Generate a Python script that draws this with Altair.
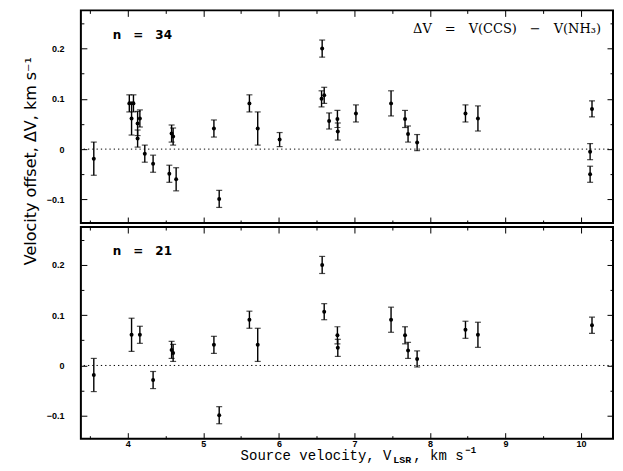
import altair as alt
import pandas as pd

# ---------------- data ----------------
# upper panel, n = 34
vel_top = [3.55, 4.02, 4.075, 4.05, 4.13, 4.13, 4.16, 4.225, 4.335, 4.55, 4.58, 4.60, 4.64,
           5.14, 5.21, 5.61, 5.72, 6.01,
           6.573, 6.565, 6.60, 6.665, 6.775, 6.78, 7.02, 7.485, 7.67, 7.71,
           7.83, 8.47, 8.635,
           10.145, 10.12, 10.12]
dv_top = [-0.019, 0.091, 0.091, 0.061, 0.051, 0.021, 0.061, -0.009, -0.029, -0.049, 0.031, 0.025, -0.060,
          0.041, -0.099, 0.091, 0.041, 0.019,
          0.200, 0.100, 0.107, 0.056, 0.060, 0.035, 0.071, 0.091, 0.060, 0.030,
          0.013, 0.071, 0.061,
          0.080, -0.005, -0.050]
err_top = [0.033, 0.017, 0.017, 0.033, 0.024, 0.017, 0.017, 0.017, 0.017, 0.017, 0.017, 0.017, 0.023,
           0.017, 0.017, 0.017, 0.033, 0.014,
           0.017, 0.016, 0.016, 0.016, 0.017, 0.017, 0.017, 0.025, 0.017, 0.016,
           0.016, 0.017, 0.025,
           0.016, 0.016, 0.016]

# lower panel, n = 21
vel_bot = [3.55, 4.05, 4.16, 4.335, 4.58, 4.60, 5.14, 5.21, 5.61, 5.72,
           6.573, 6.60, 6.775, 6.78, 7.485, 7.67, 7.71, 7.83, 8.47, 8.635, 10.145]
dv_bot = [-0.019, 0.061, 0.061, -0.029, 0.031, 0.025, 0.041, -0.099, 0.091, 0.041,
          0.200, 0.107, 0.060, 0.035, 0.091, 0.060, 0.030, 0.013, 0.071, 0.061, 0.080]
err_bot = [0.033, 0.033, 0.017, 0.017, 0.017, 0.017, 0.017, 0.017, 0.017, 0.033,
           0.017, 0.016, 0.017, 0.017, 0.025, 0.017, 0.016, 0.016, 0.017, 0.025, 0.016]

x_major = [4, 5, 6, 7, 8, 9, 10]
x_minor = [3.5, 4.5, 5.5, 6.5, 7.5, 8.5, 9.5]
y_major = [-0.1, 0, 0.1, 0.2]
y_minor = [-0.05, 0.05, 0.15, 0.25]

label_top = "n\u2003=\u200334"
label_bot = "n\u2003=\u200321"
formula_text = "\u0394V\u2003=\u2003V(CCS)\u2003\u2212\u2003V(NH\u2083)"
y_title = "Velocity offset, \u0394V, km s\u207b\u00b9"

W = 533
H_TOP, H_BOT = 213, 212
xs = alt.Scale(domain=[3.379, 10.423], nice=False, zero=False)
ys_top = alt.Scale(domain=[-0.147, 0.276], nice=False, zero=False)
ys_bot = alt.Scale(domain=[-0.1457, 0.2755], nice=False, zero=False)
dummy = pd.DataFrame({"a": [0]})


def ax(orient, vals, size, labels, pad=0):
    return alt.Axis(orient=orient, values=vals, tickSize=size, offset=-size, domain=False,
                    grid=False, labels=labels, title=None, format="~r", labelPadding=pad,
                    labelFont="Liberation Sans", labelFontWeight="bold", labelFontSize=9,
                    labelColor="black", tickColor="black", tickWidth=1)


def text(t, x, y, size, font="DejaVu Sans", weight="normal", align="left", angle=0):
    return alt.Chart(dummy).mark_text(text=t, font=font, fontSize=size, fontWeight=weight,
                                      align=align, baseline="middle", angle=angle,
                                      color="black").encode(x=alt.value(x), y=alt.value(y))


def panel(vel, dv, err, label, bottom, ys, H):
    df = pd.DataFrame({"v": vel, "dv": dv,
                       "lo": [a - b for a, b in zip(dv, err)],
                       "hi": [a + b for a, b in zip(dv, err)]})
    base = alt.Chart(df)
    zero = alt.Chart(dummy).mark_rule(color="black", strokeWidth=1, strokeDash=[1.3, 3]).encode(
        y=alt.YDatum(0, scale=ys, axis=None))
    bars = base.mark_rule(color="black", strokeWidth=1.4).encode(
        x=alt.X("v:Q", scale=xs, axis=ax("bottom", x_major, 6, bottom, pad=1)),
        y=alt.Y("lo:Q", scale=ys, axis=ax("left", y_major, 6, True, pad=17)),
        y2="hi:Q")
    caps_lo = base.mark_tick(orient="horizontal", size=6, thickness=1.2, color="black").encode(
        x=alt.X("v:Q", scale=xs, axis=ax("top", x_major, 6, False)),
        y=alt.Y("lo:Q", scale=ys, axis=ax("right", y_major, 6, False)))
    caps_hi = base.mark_tick(orient="horizontal", size=6, thickness=1.2, color="black").encode(
        x=alt.X("v:Q", scale=xs, axis=ax("bottom", x_minor, 3, False)),
        y=alt.Y("hi:Q", scale=ys, axis=ax("left", y_minor, 3, False)))
    pts = base.mark_circle(size=16, color="black", opacity=1).encode(
        x=alt.X("v:Q", scale=xs, axis=ax("top", x_minor, 3, False)),
        y=alt.Y("dv:Q", scale=ys, axis=ax("right", y_minor, 3, False)))
    layers = [zero, bars, caps_lo, caps_hi, pts,
              text(label, 32, 24.5, 12, weight="bold")]
    if not bottom:
        layers.append(text(formula_text, 521, 18.5, 13, font="DejaVu Serif", align="right"))
        layers.append(text(y_title, -50, 151, 16, align="center", angle=270))
    else:
        ty = 229.5
        mono = "Liberation Mono"
        layers.append(text("Source velocity, V", 160, ty, 14, font=mono))
        layers.append(text("LSR", 313, ty + 4, 10, font=mono, weight="bold"))
        layers.append(text(", km s", 333, ty, 14, font=mono))
        layers.append(text("\u22121", 385, ty - 6, 9, font=mono, weight="bold"))
    return alt.layer(*layers).resolve_axis(x="independent", y="independent").properties(
        width=W, height=H)


top = panel(vel_top, dv_top, err_top, label_top, False, ys_top, H_TOP)
bot = panel(vel_bot, dv_bot, err_bot, label_bot, True, ys_bot, H_BOT)

chart = alt.vconcat(top, bot, spacing=4, bounds="flush").properties(
    padding={"left": 14, "top": 0, "right": 0, "bottom": 0}
).configure_view(stroke="black", strokeWidth=2)

chart.save("out.html", embed_options={"renderer": "svg", "actions": False})
